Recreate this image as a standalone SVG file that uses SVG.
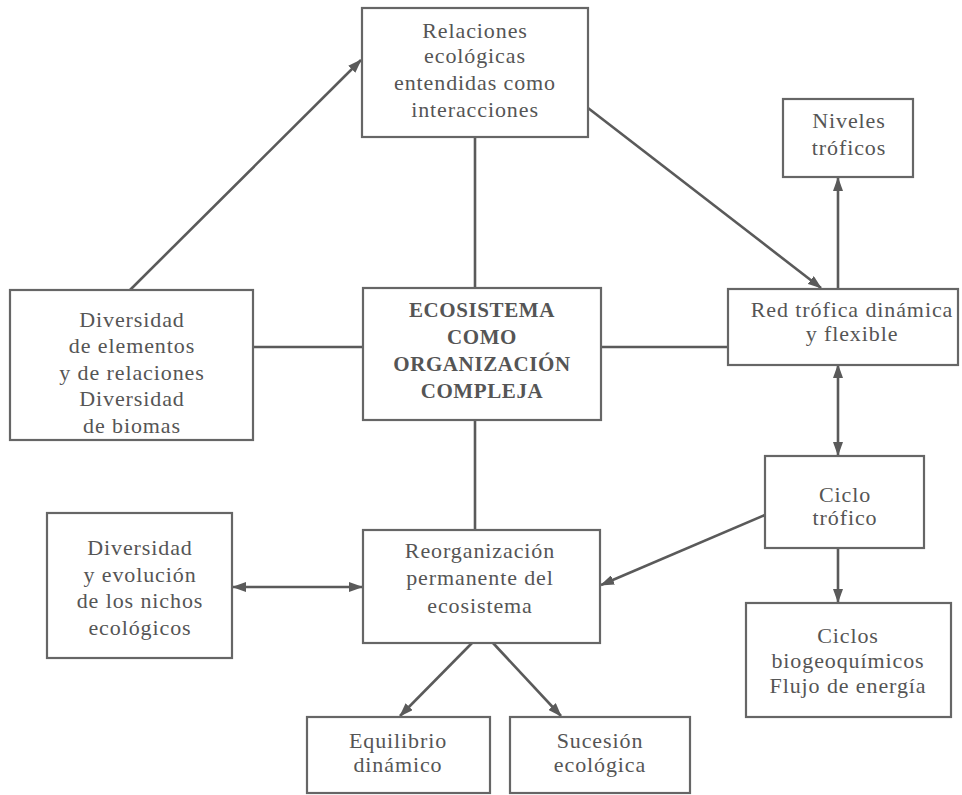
<svg xmlns="http://www.w3.org/2000/svg" width="962" height="795" viewBox="0 0 962 795">
<style>
.box{fill:#fff;stroke:#666;stroke-width:2.2}
.t{font-family:"Liberation Serif","DejaVu Serif",serif;font-size:22px;letter-spacing:0.9px;fill:#555;text-anchor:middle}
.b{font-weight:bold;font-size:21px;letter-spacing:0.6px}
.c{stroke:#5a5a5a;stroke-width:2.6;fill:none}
</style>
<defs>
<marker id="ah" viewBox="0 0 14 10" refX="13" refY="5" markerWidth="14" markerHeight="10" markerUnits="userSpaceOnUse" orient="auto-start-reverse">
<path d="M0,0 L14,5 L0,10 Z" fill="#5a5a5a"/>
</marker>
</defs>
<rect width="962" height="795" fill="#fff"/>
<g id="connectors">
<line class="c" x1="130" y1="290" x2="361" y2="60" marker-end="url(#ah)"/>
<line class="c" x1="475" y1="137" x2="475" y2="288"/>
<line class="c" x1="588" y1="108" x2="821" y2="288" marker-end="url(#ah)"/>
<line class="c" x1="253" y1="347" x2="363" y2="347"/>
<line class="c" x1="601" y1="347" x2="728" y2="347"/>
<line class="c" x1="838" y1="289" x2="838" y2="178" marker-end="url(#ah)"/>
<line class="c" x1="838" y1="365" x2="838" y2="455" marker-start="url(#ah)" marker-end="url(#ah)"/>
<line class="c" x1="475" y1="420" x2="475" y2="530"/>
<line class="c" x1="765" y1="515" x2="601" y2="585" marker-end="url(#ah)"/>
<line class="c" x1="838" y1="548" x2="838" y2="602" marker-end="url(#ah)"/>
<line class="c" x1="233" y1="587" x2="362" y2="587" marker-start="url(#ah)" marker-end="url(#ah)"/>
<line class="c" x1="472" y1="643" x2="400" y2="716" marker-end="url(#ah)"/>
<line class="c" x1="493" y1="643" x2="561" y2="716" marker-end="url(#ah)"/>
</g>
<g id="relaciones">
<rect class="box" x="362" y="8" width="226" height="129"/>
<text class="t" x="475" y="38">Relaciones</text>
<text class="t" x="475" y="63">ecológicas</text>
<text class="t" x="475" y="90">entendidas como</text>
<text class="t" x="475" y="117">interacciones</text>
</g>
<g id="diversidad-elementos">
<rect class="box" x="10" y="290" width="243" height="150"/>
<text class="t" x="132" y="327">Diversidad</text>
<text class="t" x="132" y="353">de elementos</text>
<text class="t" x="132" y="380">y de relaciones</text>
<text class="t" x="132" y="406">Diversidad</text>
<text class="t" x="132" y="433">de biomas</text>
</g>
<g id="ecosistema">
<rect class="box" x="363" y="288" width="238" height="132"/>
<text class="t b" x="482" y="317">ECOSISTEMA</text>
<text class="t b" x="482" y="344">COMO</text>
<text class="t b" x="482" y="371">ORGANIZACIÓN</text>
<text class="t b" x="482" y="398">COMPLEJA</text>
</g>
<g id="niveles">
<rect class="box" x="783" y="99" width="130" height="78"/>
<text class="t" x="849" y="128">Niveles</text>
<text class="t" x="849" y="155">tróficos</text>
</g>
<g id="red-trofica">
<rect class="box" x="728" y="289" width="230" height="76"/>
<text class="t" x="852" y="317">Red trófica dinámica</text>
<text class="t" x="852" y="341">y flexible</text>
</g>
<g id="ciclo-trofico">
<rect class="box" x="765" y="456" width="159" height="92"/>
<text class="t" x="845" y="502">Ciclo</text>
<text class="t" x="845" y="525">trófico</text>
</g>
<g id="ciclos-bio">
<rect class="box" x="746" y="603" width="205" height="114"/>
<text class="t" x="848" y="643">Ciclos</text>
<text class="t" x="848" y="668">biogeoquímicos</text>
<text class="t" x="848" y="693">Flujo de energía</text>
</g>
<g id="diversidad-nichos">
<rect class="box" x="47" y="513" width="185" height="145"/>
<text class="t" x="140" y="555">Diversidad</text>
<text class="t" x="140" y="582">y evolución</text>
<text class="t" x="140" y="608">de los nichos</text>
<text class="t" x="140" y="635">ecológicos</text>
</g>
<g id="reorganizacion">
<rect class="box" x="363" y="530" width="237" height="113"/>
<text class="t" x="480" y="558">Reorganización</text>
<text class="t" x="480" y="585">permanente del</text>
<text class="t" x="480" y="613">ecosistema</text>
</g>
<g id="equilibrio">
<rect class="box" x="307" y="717" width="183" height="76"/>
<text class="t" x="398" y="748">Equilibrio</text>
<text class="t" x="398" y="772">dinámico</text>
</g>
<g id="sucesion">
<rect class="box" x="510" y="717" width="180" height="76"/>
<text class="t" x="600" y="748">Sucesión</text>
<text class="t" x="600" y="772">ecológica</text>
</g>
</svg>
